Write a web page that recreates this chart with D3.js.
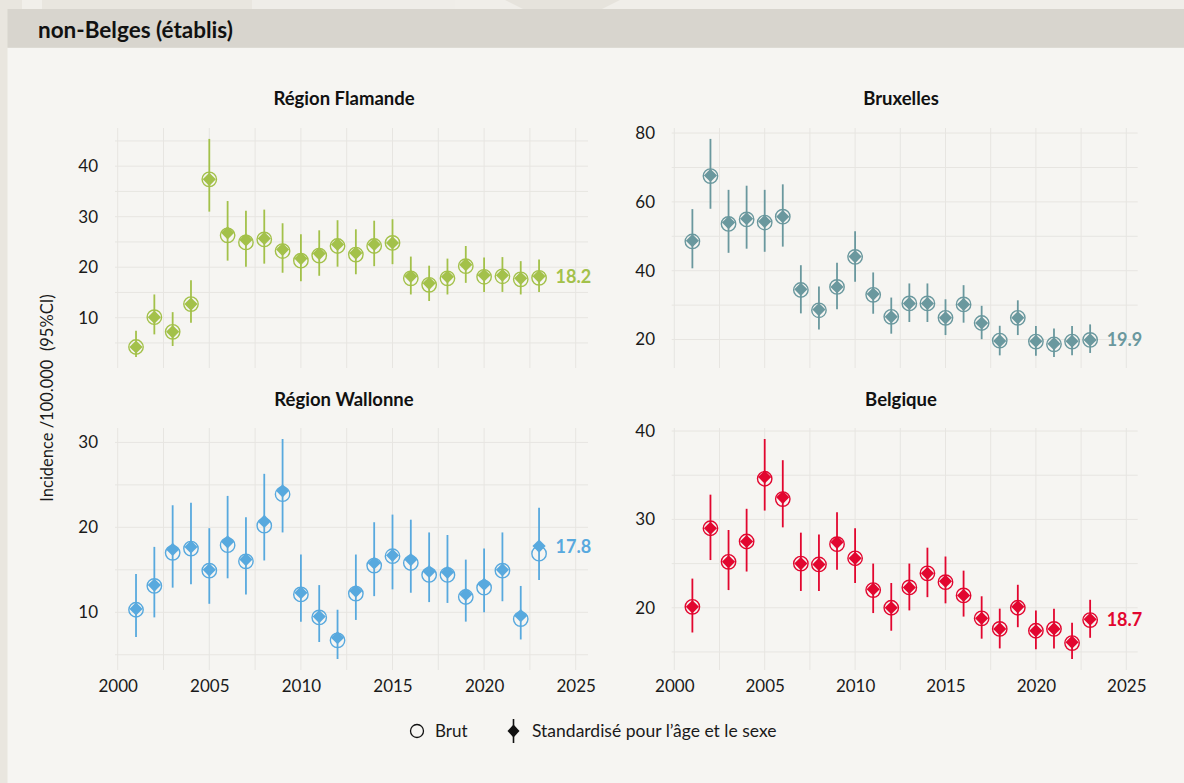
<!DOCTYPE html>
<html>
<head>
<meta charset="utf-8">
<script src="https://cdn.jsdelivr.net/npm/d3@7"></script>
<style>
  html, body { margin: 0; padding: 0; background: #ebe8e2; }
  svg { display: block; font-family: Lato, "Noto Sans", sans-serif; }
</style>
</head>
<body>
<svg id="chart" width="1184" height="783"></svg>
<script>
// Years of observation
const years = [2001, 2002, 2003, 2004, 2005, 2006, 2007, 2008, 2009, 2010, 2011, 2012,
               2013, 2014, 2015, 2016, 2017, 2018, 2019, 2020, 2021, 2022, 2023];

// Région Flamande
const flamandeStd   = [4.2, 10.1, 7.2, 12.7, 37.4, 26.8, 25.4, 25.7, 23.5, 21.7, 22.7, 24.5, 22.8, 24.5, 24.8, 18.2, 16.8, 18.1, 20.5, 18.4, 18.4, 17.8, 18.2];
const flamandeBrut  = [4.2, 10.1, 7.2, 12.7, 37.4, 26.3, 24.9, 25.5, 23.2, 21.3, 22.3, 24.2, 22.5, 24.2, 24.8, 17.8, 16.5, 17.8, 20.2, 18.1, 18.2, 17.6, 17.9];
const flamandeLo    = [2.2, 6.7, 4.4, 9.0, 31.0, 21.3, 20.1, 20.7, 18.9, 17.2, 18.3, 20.1, 18.6, 20.2, 20.6, 14.6, 13.3, 14.6, 16.9, 15.1, 15.1, 14.6, 15.1];
const flamandeHi    = [7.4, 14.6, 11.1, 17.4, 45.4, 33.1, 31.2, 31.4, 28.7, 26.5, 27.3, 29.3, 27.5, 29.2, 29.5, 22.1, 20.3, 21.7, 24.2, 21.9, 22.0, 21.2, 21.5];

// Bruxelles
const bruxellesStd  = [48.7, 67.7, 54.0, 55.1, 54.3, 55.7, 34.6, 28.7, 35.3, 44.1, 33.2, 26.6, 30.5, 30.5, 26.3, 30.2, 24.8, 19.6, 26.3, 19.5, 18.8, 19.5, 19.9];
const bruxellesBrut = [48.5, 67.5, 53.6, 54.9, 54.0, 55.7, 34.4, 28.5, 35.3, 44.0, 33.0, 26.6, 30.5, 30.5, 26.3, 30.2, 24.8, 19.7, 26.3, 19.4, 18.6, 19.4, 19.9];
const bruxellesLo   = [40.7, 58.0, 45.2, 46.4, 45.5, 47.0, 27.6, 22.9, 28.8, 36.8, 27.5, 21.7, 25.1, 25.1, 21.3, 24.9, 20.1, 15.4, 21.3, 15.3, 14.9, 15.4, 16.1];
const bruxellesHi   = [57.9, 78.3, 63.5, 64.7, 63.5, 65.1, 41.6, 35.4, 42.3, 51.5, 39.5, 32.2, 36.3, 36.3, 31.7, 35.8, 29.8, 24.0, 31.4, 23.9, 23.2, 23.9, 24.4];

// Région Wallonne
const wallonneStd   = [10.4, 13.2, 17.4, 17.7, 15.0, 18.3, 16.2, 20.7, 24.3, 12.3, 9.5, 7.0, 12.5, 15.8, 16.7, 16.2, 14.8, 14.7, 12.1, 13.3, 15.0, 9.6, 17.8];
const wallonneBrut  = [10.3, 13.1, 17.0, 17.5, 14.9, 17.9, 16.0, 20.2, 23.9, 12.1, 9.4, 6.7, 12.2, 15.5, 16.6, 15.8, 14.4, 14.4, 11.8, 12.9, 14.9, 9.2, 16.9];
const wallonneLo    = [7.1, 9.4, 12.9, 13.3, 11.0, 14.0, 12.1, 16.1, 19.4, 8.9, 6.5, 4.5, 9.1, 11.9, 12.7, 12.3, 11.2, 11.1, 8.9, 10.0, 11.3, 6.8, 13.8];
const wallonneHi    = [14.5, 17.7, 22.6, 22.9, 19.9, 23.7, 21.2, 26.3, 30.4, 16.8, 13.2, 10.3, 16.8, 20.6, 21.5, 20.9, 19.4, 19.1, 16.2, 17.5, 19.4, 13.1, 22.3];

// Belgique
const belgiqueStd   = [20.1, 29.0, 25.2, 27.5, 34.8, 32.5, 25.0, 24.9, 27.4, 25.6, 22.1, 20.0, 22.3, 23.9, 23.0, 21.4, 18.8, 17.6, 20.1, 17.4, 17.6, 16.1, 18.7];
const belgiqueBrut  = [20.1, 29.0, 25.2, 27.5, 34.6, 32.3, 25.0, 24.9, 27.2, 25.6, 22.0, 20.0, 22.3, 23.9, 22.9, 21.4, 18.8, 17.6, 20.0, 17.4, 17.6, 16.0, 18.6];
const belgiqueLo    = [17.2, 25.4, 22.0, 24.1, 31.0, 29.1, 21.9, 21.9, 24.3, 22.8, 19.4, 17.4, 19.7, 21.2, 20.5, 19.0, 16.5, 15.4, 17.8, 15.3, 15.4, 14.2, 16.6];
const belgiqueHi    = [23.3, 32.8, 28.8, 31.2, 39.1, 36.7, 28.5, 28.3, 30.8, 29.0, 25.0, 22.8, 25.0, 26.8, 25.8, 24.2, 21.3, 19.9, 22.6, 19.7, 19.9, 18.3, 20.9];

// Axis ticks
const xTicks = [2000, 2005, 2010, 2015, 2020, 2025];
const xMinor = [2002.5, 2007.5, 2012.5, 2017.5, 2022.5];
const flamandeTicks  = [10, 20, 30, 40];
const bruxellesTicks = [20, 40, 60, 80];
const wallonneTicks  = [10, 20, 30];
const belgiqueTicks  = [20, 30, 40];

const panelTitles = ["Région Flamande", "Bruxelles", "Région Wallonne", "Belgique"];
const chartTitle = "non-Belges (établis)";
const yTitle = "Incidence /100.000  (95%CI)";
const legendLabels = ["Brut", "Standardisé pour l’âge et le sexe"];

// Panel layout and styling
const panels = [
  { title: panelTitles[0], std: flamandeStd,  brut: flamandeBrut,  lo: flamandeLo,  hi: flamandeHi,  ticks: flamandeTicks,
    color: "#a3c14a", left: 115, right: 588, x0: 117.7, x1: 575.7, top: 128, bottom: 368, titleX: 344, titleY: 98, labelX: 98 },
  { title: panelTitles[1], std: bruxellesStd, brut: bruxellesBrut, lo: bruxellesLo, hi: bruxellesHi, ticks: bruxellesTicks,
    color: "#6a989e", left: 671.7, right: 1137.7, x0: 674.3, x1: 1126.3, top: 128, bottom: 368, titleX: 901, titleY: 98, labelX: 655 },
  { title: panelTitles[2], std: wallonneStd,  brut: wallonneBrut,  lo: wallonneLo,  hi: wallonneHi,  ticks: wallonneTicks,
    color: "#58a9de", left: 115, right: 588, x0: 117.7, x1: 575.7, top: 428, bottom: 670, titleX: 344, titleY: 399, labelX: 98 },
  { title: panelTitles[3], std: belgiqueStd,  brut: belgiqueBrut,  lo: belgiqueLo,  hi: belgiqueHi,  ticks: belgiqueTicks,
    color: "#e2062f", left: 671.7, right: 1137.7, x0: 674.3, x1: 1126.3, top: 428, bottom: 670, titleX: 901, titleY: 399, labelX: 655 }
];

const svg = d3.select("#chart");

// Page background, faint decorative shapes on top, header band and content area
svg.append("rect").attr("width", 1184).attr("height", 783).attr("fill", "#e9e6df");
svg.append("polygon").attr("points", "22,0 42,0 42,10 22,10").attr("fill", "#f1efea");
svg.append("polygon").attr("points", "252,0 455,0 455,10 252,10").attr("fill", "#efede8");
svg.append("polygon").attr("points", "455,0 1184,0 1184,10 455,10").attr("fill", "#f0eee9");
svg.append("polygon").attr("points", "505,0 620,0 600,10 525,10").attr("fill", "#e6e3dc");
svg.append("rect").attr("x", 7.5).attr("y", 47.7).attr("width", 1184 - 7.5).attr("height", 783 - 47.7).attr("fill", "#f6f5f2");
svg.append("rect").attr("x", 7.5).attr("y", 9).attr("width", 1184 - 7.5).attr("height", 38.7).attr("fill", "#d8d5ce");

svg.append("text").attr("x", 38).attr("y", 37.5).attr("font-size", 22.5).attr("font-weight", 700)
  .attr("fill", "#111").text(chartTitle);

const gridColor = "#e7e5e1";

panels.forEach(p => {
  const g = svg.append("g");
  const x = d3.scaleLinear().domain([xTicks[0], xTicks[xTicks.length - 1]]).range([p.x0, p.x1]);
  const lo = d3.min(p.lo), hi = d3.max(p.hi), pad = (hi - lo) * 0.05;
  const y = d3.scaleLinear().domain([lo - pad, hi + pad]).range([p.bottom, p.top]);

  // Minor y gridlines halfway between major ticks
  const step = p.ticks[1] - p.ticks[0];
  const yMinor = d3.range(p.ticks[0] - step / 2, p.ticks[p.ticks.length - 1] + step, step)
    .filter(v => v >= y.domain()[0] && v <= y.domain()[1]);

  g.selectAll(".ygrid").data(p.ticks.concat(yMinor)).join("line")
    .attr("x1", p.left).attr("x2", p.right)
    .attr("y1", d => y(d)).attr("y2", d => y(d))
    .attr("stroke", gridColor).attr("stroke-width", 1);
  g.selectAll(".xgrid").data(xTicks.concat(xMinor)).join("line")
    .attr("x1", d => x(d)).attr("x2", d => x(d))
    .attr("y1", p.top).attr("y2", p.bottom)
    .attr("stroke", gridColor).attr("stroke-width", 1);

  // Y axis labels
  const yAxis = g.append("g").attr("transform", `translate(${p.labelX + 2},0)`)
    .call(d3.axisLeft(y).tickValues(p.ticks).tickSize(0).tickPadding(2).tickFormat(d3.format("d")));
  yAxis.select(".domain").remove();
  yAxis.selectAll("text").attr("font-size", 17).attr("fill", "#1a1a1a").attr("font-family", "Lato, sans-serif");

  // X axis labels on bottom row only
  if (p.top > 300) {
    const xAxis = g.append("g").attr("transform", `translate(0,${p.bottom + 7})`)
      .call(d3.axisBottom(x).tickValues(xTicks).tickSize(0).tickPadding(3).tickFormat(d3.format("d")));
    xAxis.select(".domain").remove();
    xAxis.selectAll("text").attr("font-size", 17).attr("fill", "#1a1a1a").attr("font-family", "Lato, sans-serif");
  }

  // Panel title
  g.append("text").attr("x", p.titleX).attr("y", p.titleY + 6.5).attr("text-anchor", "middle")
    .attr("font-size", 18.5).attr("font-weight", 700).attr("fill", "#111").text(p.title);

  const rows = years.map((yr, i) => ({ yr, std: p.std[i], brut: p.brut[i], lo: p.lo[i], hi: p.hi[i] }));

  // Confidence intervals
  g.selectAll(".ci").data(rows).join("line")
    .attr("x1", d => x(d.yr)).attr("x2", d => x(d.yr))
    .attr("y1", d => y(d.lo)).attr("y2", d => y(d.hi))
    .attr("stroke", p.color).attr("stroke-width", 1.8);

  // Crude rates (open circles)
  g.selectAll(".brut").data(rows).join("circle")
    .attr("cx", d => x(d.yr)).attr("cy", d => y(d.brut)).attr("r", 7.2)
    .attr("fill", "none").attr("stroke", p.color).attr("stroke-width", 1.4);

  // Age/sex standardised rates (filled diamonds)
  const dm = 6.6;
  g.selectAll(".std").data(rows).join("path")
    .attr("d", d => {
      const cx = x(d.yr), cy = y(d.std);
      return `M${cx},${cy - dm}L${cx + dm},${cy}L${cx},${cy + dm}L${cx - dm},${cy}Z`;
    })
    .attr("fill", p.color);

  // Latest standardised value
  const last = rows[rows.length - 1];
  g.append("text").attr("x", x(last.yr) + 16.5).attr("y", y(last.std)).attr("dy", "0.36em")
    .attr("font-size", 18).attr("font-weight", 700).attr("fill", p.color)
    .text(d3.format(".1f")(last.std));
});

// Shared y axis title
svg.append("text").attr("transform", "translate(53,398) rotate(-90)").attr("text-anchor", "middle")
  .attr("font-size", 16.5).attr("fill", "#1a1a1a").style("white-space", "pre").text(yTitle);

// Legend
const lg = svg.append("g");
lg.append("circle").attr("cx", 417).attr("cy", 731).attr("r", 6.5)
  .attr("fill", "none").attr("stroke", "#111").attr("stroke-width", 1.3);
lg.append("text").attr("x", 435).attr("y", 737).attr("font-size", 17).attr("fill", "#1a1a1a").text(legendLabels[0]);
lg.append("line").attr("x1", 513.5).attr("x2", 513.5).attr("y1", 719).attr("y2", 743)
  .attr("stroke", "#111").attr("stroke-width", 1.6);
lg.append("path").attr("d", "M513.5,724.5L519.5,731L513.5,737.5L507.5,731Z").attr("fill", "#111");
lg.append("text").attr("x", 532).attr("y", 737).attr("font-size", 17.5).attr("fill", "#1a1a1a").text(legendLabels[1]);
</script>
</body>
</html>
